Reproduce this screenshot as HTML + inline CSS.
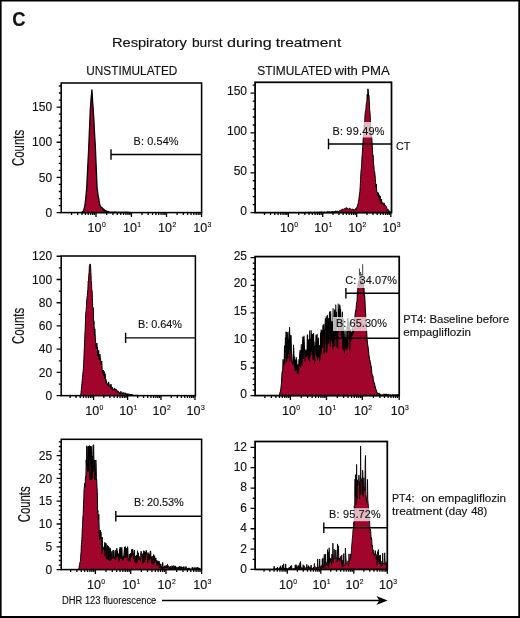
<!DOCTYPE html>
<html><head><meta charset="utf-8"><title>C</title>
<style>
html,body{margin:0;padding:0;background:#fff;}
body{width:520px;height:618px;overflow:hidden;font-family:"Liberation Sans",sans-serif;}
svg{display:block;will-change:transform;}
text{font-family:"Liberation Sans",sans-serif;fill:#111;stroke:#111;stroke-width:0.14px;}
</style></head><body>
<svg width="520" height="618" viewBox="0 0 520 618">
<rect x="0" y="0" width="520" height="618" fill="#fff"/>
<path d="M0 0H520V618H0Z M1.6 1.5V616H518.3V1.5Z" fill="#000" fill-rule="evenodd"/>

<text x="12.30" y="25.80" font-size="20.3" text-anchor="start" font-weight="bold" textLength="13.3" lengthAdjust="spacingAndGlyphs">C</text>
<text x="111.90" y="46.75" font-size="13" textLength="74.95" lengthAdjust="spacingAndGlyphs" >Respiratory</text>
<text x="191.90" y="46.75" font-size="13" textLength="30.70" lengthAdjust="spacingAndGlyphs" >burst</text>
<text x="226.90" y="46.75" font-size="13" textLength="44.95" lengthAdjust="spacingAndGlyphs" >during</text>
<text x="275.65" y="46.75" font-size="13" textLength="65.70" lengthAdjust="spacingAndGlyphs" >treatment</text>
<text x="86.30" y="75.10" font-size="12.8" text-anchor="start" textLength="91" lengthAdjust="spacingAndGlyphs">UNSTIMULATED</text>
<text x="257.20" y="75.1" font-size="12.8" textLength="74.70" lengthAdjust="spacingAndGlyphs" >STIMULATED</text>
<text x="334.50" y="75.1" font-size="12.8" textLength="23.40" lengthAdjust="spacingAndGlyphs" >with</text>
<text x="361.30" y="75.1" font-size="12.8" textLength="28.60" lengthAdjust="spacingAndGlyphs" >PMA</text>
<text transform="translate(23.85 147.9) rotate(-90) scale(0.712 1)" font-size="16" text-anchor="middle" stroke="none">Counts</text>
<text transform="translate(23.85 325.9) rotate(-90) scale(0.712 1)" font-size="16" text-anchor="middle" stroke="none">Counts</text>
<text transform="translate(30.4 504.3) rotate(-90) scale(0.712 1)" font-size="16" text-anchor="middle" stroke="none">Counts</text>
<path d="M81.5 212.6L81.5 212.6L81.9 212.3L82.3 212.0L82.7 211.6L83.1 211.3L83.5 211.0L83.9 209.4L84.3 207.8L84.7 206.2L85.1 204.1L85.5 200.3L85.9 196.6L86.3 192.8L86.7 188.0L87.1 180.0L87.5 172.0L87.9 164.0L88.3 156.0L88.7 148.0L89.1 138.5L89.5 129.0L89.9 119.5L90.3 110.0L90.7 104.3L91.1 98.4L91.5 94.8L91.9 89.9L92.3 95.5L92.7 103.0L93.1 107.3L93.5 114.4L93.9 120.2L94.3 128.8L94.7 136.1L95.1 142.2L95.5 150.2L95.9 160.1L96.3 169.6L96.7 179.1L97.1 188.3L97.5 190.6L97.9 194.1L98.3 196.8L98.7 197.9L99.1 201.1L99.5 203.8L99.9 204.8L100.3 206.2L100.7 206.6L101.1 207.0L101.5 207.5L101.9 207.4L102.3 208.0L102.7 209.6L103.1 208.8L103.5 210.1L103.9 209.3L104.3 210.0L104.7 209.9L105.1 210.9L105.5 210.7L105.9 210.9L106.3 211.0L106.7 211.5L107.1 211.5L107.5 212.0L107.9 211.4L108.3 211.9L108.7 211.9L109.1 212.3L109.5 212.2L109.9 212.3L110.3 212.3L110.7 212.2L111.1 212.2L111.5 212.3L111.9 212.6L112.3 212.3L112.7 212.1L113.1 212.4L113.5 212.3L113.9 212.2L114.3 212.4L114.7 212.2L115.1 212.2L115.5 212.1L115.9 212.3L116.3 212.1L116.7 212.3L117.1 212.3L117.5 212.4L117.9 212.3L118.3 212.4L118.7 212.1L119.1 212.4L119.5 212.3L119.9 212.3L120.3 212.4L120.7 212.5L121.1 212.5L121.5 212.4L121.9 212.2L122.3 212.6L122.7 212.4L123.1 212.6L123.5 212.3L123.9 212.3L124.3 212.4L124.7 212.5L125.1 212.2L125.5 212.4L125.9 212.5L126.3 212.5L126.7 212.2L127.1 212.2L127.5 212.6L127.9 212.5L128.3 212.5L128.7 212.4L129.1 212.3L129.5 212.4L129.9 212.6L130.0 212.6Z" fill="#a2052b" stroke="#000" stroke-width="1.3" stroke-linejoin="round"/>
<rect x="61.2" y="83" width="140.40" height="129.60" fill="none" stroke="#000" stroke-width="1.55"/>
<path d="M71.54 212.6v2.4M77.70 212.6v2.4M82.07 212.6v2.4M85.46 212.6v2.4M88.24 212.6v2.4M90.58 212.6v2.4M92.61 212.6v2.4M94.40 212.6v2.4M96.00 212.6v4.4M106.66 212.6v2.4M112.89 212.6v2.4M117.31 212.6v2.4M120.74 212.6v2.4M123.55 212.6v2.4M125.92 212.6v2.4M127.97 212.6v2.4M129.78 212.6v2.4M131.40 212.6v4.4M141.97 212.6v2.4M148.15 212.6v2.4M152.53 212.6v2.4M155.93 212.6v2.4M158.71 212.6v2.4M161.06 212.6v2.4M163.10 212.6v2.4M164.89 212.6v2.4M166.50 212.6v4.4M177.07 212.6v2.4M183.25 212.6v2.4M187.63 212.6v2.4M191.03 212.6v2.4M193.81 212.6v2.4M196.16 212.6v2.4M198.20 212.6v2.4M199.99 212.6v2.4M201.60 212.6v4.4M61.2 212.60h-4.6M61.2 205.57h-2.4M61.2 198.53h-2.4M61.2 191.50h-2.4M61.2 184.46h-2.4M61.2 177.43h-4.6M61.2 170.40h-2.4M61.2 163.36h-2.4M61.2 156.33h-2.4M61.2 149.29h-2.4M61.2 142.26h-4.6M61.2 135.23h-2.4M61.2 128.19h-2.4M61.2 121.16h-2.4M61.2 114.12h-2.4M61.2 107.09h-4.6M61.2 100.06h-2.4M61.2 93.02h-2.4M61.2 85.99h-2.4" stroke="#000" stroke-width="1.3" fill="none"/>
<text x="52.10" y="216.70" font-size="12.0" text-anchor="end" >0</text>
<text x="52.10" y="181.53" font-size="12.0" text-anchor="end" >50</text>
<text x="52.10" y="146.36" font-size="12.0" text-anchor="end" >100</text>
<text x="52.10" y="111.19" font-size="12.0" text-anchor="end" >150</text>
<text x="87.60" y="232.20" font-size="12.2" textLength="14.0" lengthAdjust="spacingAndGlyphs">10</text><text x="101.90" y="227.30" font-size="8" textLength="3.8" lengthAdjust="spacingAndGlyphs" stroke="none">0</text>
<text x="123.00" y="232.20" font-size="12.2" textLength="14.0" lengthAdjust="spacingAndGlyphs">10</text><text x="137.30" y="227.30" font-size="8" textLength="3.8" lengthAdjust="spacingAndGlyphs" stroke="none">1</text>
<text x="158.10" y="232.20" font-size="12.2" textLength="14.0" lengthAdjust="spacingAndGlyphs">10</text><text x="172.40" y="227.30" font-size="8" textLength="3.8" lengthAdjust="spacingAndGlyphs" stroke="none">2</text>
<text x="193.20" y="232.20" font-size="12.2" textLength="14.0" lengthAdjust="spacingAndGlyphs">10</text><text x="207.50" y="227.30" font-size="8" textLength="3.8" lengthAdjust="spacingAndGlyphs" stroke="none">3</text>
<path d="M111 154.45H201.6M111 149.25v10.4" stroke="#000" stroke-width="1.4" fill="none"/>
<text x="133.50" y="144.60" font-size="10.9" text-anchor="start" textLength="45" lengthAdjust="spacing">B: 0.54%</text>
<path d="M300.0 212.7L300.0 212.7L300.4 212.5L300.7 212.5L301.1 212.7L301.4 212.7L301.8 212.6L302.1 212.7L302.5 212.5L302.8 212.5L303.2 212.3L303.5 212.6L303.9 212.7L304.2 212.6L304.6 212.6L304.9 212.6L305.3 212.4L305.6 212.3L306.0 212.4L306.3 212.5L306.7 212.2L307.0 212.6L307.4 212.2L307.7 212.4L308.1 212.2L308.4 212.3L308.8 212.5L309.1 212.2L309.5 212.3L309.8 212.3L310.2 212.0L310.5 212.2L310.9 212.3L311.2 212.3L311.6 212.5L311.9 212.2L312.3 212.5L312.6 212.4L313.0 212.3L313.3 212.3L313.7 212.6L314.0 212.2L314.4 212.1L314.7 212.1L315.1 212.2L315.4 212.4L315.8 212.3L316.1 212.2L316.5 212.1L316.8 212.4L317.2 211.9L317.5 212.2L317.9 212.0L318.2 212.3L318.6 212.2L318.9 212.3L319.3 211.9L319.6 212.1L320.0 212.1L320.3 212.2L320.7 212.2L321.0 211.7L321.4 212.3L321.7 212.4L322.1 211.8L322.4 212.2L322.8 212.2L323.1 212.1L323.5 212.3L323.8 212.4L324.2 212.1L324.5 212.0L324.9 212.1L325.2 212.2L325.6 212.4L325.9 212.0L326.3 212.1L326.6 212.2L327.0 212.0L327.3 211.8L327.7 211.6L328.0 211.9L328.4 211.5L328.7 211.8L329.1 211.7L329.4 211.7L329.8 211.9L330.1 211.9L330.5 212.3L330.8 211.7L331.2 211.9L331.5 211.7L331.9 212.3L332.2 211.3L332.6 211.7L332.9 211.5L333.3 211.5L333.6 212.2L334.0 212.3L334.3 211.5L334.7 211.8L335.0 212.0L335.4 210.8L335.7 211.4L336.1 211.4L336.4 211.2L336.8 211.5L337.1 211.4L337.5 211.6L337.8 210.8L338.2 211.6L338.5 211.1L338.9 211.7L339.2 211.5L339.6 210.5L339.9 210.6L340.3 210.9L340.6 210.7L341.0 209.8L341.3 210.3L341.7 209.7L342.0 209.7L342.4 209.0L342.7 209.1L343.1 209.1L343.4 209.2L343.8 209.3L344.1 209.7L344.5 208.5L344.8 208.8L345.2 208.6L345.5 208.3L345.9 208.6L346.2 207.6L346.6 207.9L346.9 208.0L347.3 208.1L347.6 209.0L348.0 209.5L348.3 209.2L348.7 208.8L349.0 208.7L349.4 208.1L349.7 208.1L350.1 208.9L350.4 208.7L350.8 209.5L351.1 209.7L351.5 209.8L351.8 209.6L352.2 208.8L352.5 209.3L352.9 209.8L353.2 209.1L353.6 209.5L353.9 210.1L354.3 210.1L354.6 209.7L355.0 209.2L355.3 209.4L355.7 208.4L356.0 209.7L356.4 208.7L356.7 207.2L357.1 206.6L357.4 205.8L357.8 204.2L358.1 204.2L358.5 201.2L358.8 200.1L359.2 196.5L359.5 193.7L359.9 191.4L360.2 186.4L360.6 179.8L360.9 172.7L361.3 168.9L361.6 166.1L362.0 156.9L362.3 154.2L362.7 146.6L363.0 142.2L363.4 136.5L363.7 134.5L364.1 124.8L364.4 127.1L364.8 120.2L365.1 113.4L365.5 111.1L365.8 111.1L366.2 104.7L366.5 103.1L366.9 101.3L367.2 94.5L367.6 98.4L367.9 88.8L368.3 90.7L368.6 96.1L369.0 95.5L369.3 101.6L369.7 110.2L370.0 112.6L370.4 120.5L370.7 127.4L371.1 133.0L371.4 134.1L371.8 138.3L372.1 142.8L372.5 150.9L372.8 156.2L373.2 155.6L373.5 163.0L373.9 165.9L374.2 170.4L374.6 171.6L374.9 173.8L375.3 178.4L375.6 182.6L376.0 187.2L376.3 184.0L376.7 191.0L377.0 191.8L377.4 193.1L377.7 195.8L378.1 192.5L378.4 192.9L378.8 197.7L379.1 194.7L379.5 200.4L379.8 197.8L380.2 195.9L380.5 198.4L380.9 199.3L381.2 203.5L381.6 199.2L381.9 203.7L382.3 203.7L382.6 202.5L383.0 204.3L383.3 203.5L383.7 205.3L384.0 202.8L384.4 205.5L384.7 204.8L385.1 205.1L385.4 205.5L385.8 205.8L386.1 206.2L386.5 206.8L386.8 208.5L387.2 208.7L387.5 210.7L387.9 209.0L388.2 211.2L388.6 211.3L388.9 210.6L389.3 211.9L389.6 211.6L390.0 211.6L390.3 212.1L390.7 211.5L391.0 212.6L391.4 212.4L391.5 212.7Z" fill="#a2052b" stroke="#000" stroke-width="1.0" stroke-linejoin="round"/>
<rect x="255.1" y="82.3" width="136.40" height="130.35" fill="none" stroke="#000" stroke-width="1.75"/>
<path d="M264.50 212.65v2.4M270.52 212.65v2.4M274.79 212.65v2.4M278.10 212.65v2.4M280.81 212.65v2.4M283.10 212.65v2.4M285.09 212.65v2.4M286.84 212.65v2.4M288.40 212.65v4.4M298.73 212.65v2.4M304.77 212.65v2.4M309.05 212.65v2.4M312.37 212.65v2.4M315.09 212.65v2.4M317.39 212.65v2.4M319.38 212.65v2.4M321.13 212.65v2.4M322.70 212.65v4.4M332.94 212.65v2.4M338.92 212.65v2.4M343.17 212.65v2.4M346.46 212.65v2.4M349.16 212.65v2.4M351.43 212.65v2.4M353.41 212.65v2.4M355.14 212.65v2.4M356.70 212.65v4.4M366.97 212.65v2.4M372.97 212.65v2.4M377.23 212.65v2.4M380.53 212.65v2.4M383.23 212.65v2.4M385.52 212.65v2.4M387.50 212.65v2.4M389.24 212.65v2.4M390.80 212.65v4.4M255.1 212.65h-4.6M255.1 204.68h-2.4M255.1 196.71h-2.4M255.1 188.74h-2.4M255.1 180.77h-2.4M255.1 172.80h-4.6M255.1 164.83h-2.4M255.1 156.86h-2.4M255.1 148.89h-2.4M255.1 140.92h-2.4M255.1 132.95h-4.6M255.1 124.98h-2.4M255.1 117.01h-2.4M255.1 109.04h-2.4M255.1 101.07h-2.4M255.1 93.10h-4.6M255.1 85.13h-2.4" stroke="#000" stroke-width="1.3" fill="none"/>
<text x="247.00" y="215.40" font-size="12.0" text-anchor="end" >0</text>
<text x="247.00" y="175.13" font-size="12.0" text-anchor="end" >50</text>
<text x="247.00" y="134.87" font-size="12.0" text-anchor="end" >100</text>
<text x="247.00" y="94.61" font-size="12.0" text-anchor="end" >150</text>
<text x="280.00" y="232.25" font-size="12.2" textLength="14.0" lengthAdjust="spacingAndGlyphs">10</text><text x="294.30" y="227.35" font-size="8" textLength="3.8" lengthAdjust="spacingAndGlyphs" stroke="none">0</text>
<text x="314.30" y="232.25" font-size="12.2" textLength="14.0" lengthAdjust="spacingAndGlyphs">10</text><text x="328.60" y="227.35" font-size="8" textLength="3.8" lengthAdjust="spacingAndGlyphs" stroke="none">1</text>
<text x="348.30" y="232.25" font-size="12.2" textLength="14.0" lengthAdjust="spacingAndGlyphs">10</text><text x="362.60" y="227.35" font-size="8" textLength="3.8" lengthAdjust="spacingAndGlyphs" stroke="none">2</text>
<text x="382.40" y="232.25" font-size="12.2" textLength="14.0" lengthAdjust="spacingAndGlyphs">10</text><text x="396.70" y="227.35" font-size="8" textLength="3.8" lengthAdjust="spacingAndGlyphs" stroke="none">3</text>
<rect x="331" y="122" width="54" height="15.5" fill="#fff" fill-opacity="0.72"/>
<path d="M328.5 144.0H391.5M328.5 138.8v10.4" stroke="#000" stroke-width="1.4" fill="none"/>
<text x="332.40" y="134.60" font-size="10.9" text-anchor="start" textLength="52" lengthAdjust="spacing">B: 99.49%</text>
<text x="396.00" y="150.00" font-size="10.9" text-anchor="start" textLength="14.4" lengthAdjust="spacingAndGlyphs">CT</text>
<path d="M80.7 395.6L80.7 395.6L81.0 392.7L81.3 389.7L81.6 386.7L81.9 383.7L82.2 380.5L82.5 377.8L82.8 374.2L83.1 371.5L83.4 368.7L83.7 363.7L84.0 355.4L84.3 348.8L84.6 342.3L84.9 334.5L85.2 329.1L85.5 321.0L85.8 313.0L86.1 311.0L86.4 306.7L86.7 300.8L87.0 297.7L87.3 295.5L87.6 292.2L87.9 289.1L88.2 281.1L88.5 281.9L88.8 274.8L89.1 272.6L89.4 265.7L89.7 264.9L90.0 263.9L90.3 264.2L90.6 266.1L90.9 272.3L91.2 280.4L91.5 282.9L91.8 290.7L92.1 290.6L92.4 297.6L92.7 306.9L93.0 307.1L93.3 307.8L93.6 324.7L93.9 320.8L94.2 326.2L94.5 335.7L94.8 328.8L95.1 333.7L95.4 339.1L95.7 342.8L96.0 344.0L96.3 348.5L96.6 344.6L96.9 343.1L97.2 346.8L97.5 346.9L97.8 355.3L98.1 350.1L98.4 356.6L98.7 350.6L99.0 359.6L99.3 359.9L99.6 358.5L99.9 354.1L100.2 359.2L100.5 357.8L100.8 363.0L101.1 364.2L101.4 365.0L101.7 361.0L102.0 365.2L102.3 372.1L102.6 370.3L102.9 373.6L103.2 371.2L103.5 370.0L103.8 375.8L104.1 371.4L104.4 376.3L104.7 378.5L105.0 373.6L105.3 376.2L105.6 380.4L105.9 379.1L106.2 383.3L106.5 380.8L106.8 383.0L107.1 383.8L107.4 385.0L107.7 385.3L108.0 383.6L108.3 384.1L108.6 381.9L108.9 383.1L109.2 386.8L109.5 386.2L109.8 386.9L110.1 384.6L110.4 386.4L110.7 389.1L111.0 384.3L111.3 386.6L111.6 386.5L111.9 388.3L112.2 387.2L112.5 389.7L112.8 390.3L113.1 388.9L113.4 389.2L113.7 389.1L114.0 389.2L114.3 389.2L114.6 387.9L114.9 390.1L115.2 389.5L115.5 389.2L115.8 390.1L116.1 389.2L116.4 391.2L116.7 390.5L117.0 391.1L117.3 391.3L117.6 392.5L117.9 390.7L118.2 391.1L118.5 391.5L118.8 392.3L119.1 393.4L119.4 392.5L119.7 393.6L120.0 392.7L120.3 393.3L120.6 393.8L120.9 391.3L121.2 392.2L121.5 392.9L121.8 393.6L122.1 392.7L122.4 394.0L122.7 394.2L123.0 392.7L123.3 394.2L123.6 394.3L123.9 392.5L124.2 394.1L124.5 394.0L124.8 394.5L125.1 394.4L125.4 392.8L125.7 394.4L126.0 394.3L126.3 393.8L126.6 393.9L126.9 394.8L127.2 393.5L127.5 394.9L127.8 394.8L128.1 395.6L128.4 394.4L128.7 393.7L129.0 394.6L129.3 394.0L129.6 395.1L129.9 395.3L130.2 394.7L130.5 395.4L130.8 394.3L131.1 394.9L131.4 394.3L131.7 395.4L132.0 394.2L132.3 395.1L132.6 395.1L132.9 395.0L133.2 395.3L133.5 395.1L133.8 395.1L134.1 395.6L134.4 395.0L134.7 395.4L135.0 395.4L135.3 394.9L135.6 395.2L135.9 395.2L136.2 395.4L136.5 395.2L136.8 395.4L137.1 395.1L137.4 395.2L137.7 395.3L138.0 395.3L138.3 395.4L138.6 395.5L138.9 395.4L139.2 395.3L139.5 395.6L139.8 395.6L140.0 395.6Z" fill="#a2052b" stroke="#000" stroke-width="1.0" stroke-linejoin="round"/>
<rect x="61.2" y="256" width="134.20" height="139.65" fill="none" stroke="#000" stroke-width="1.55"/>
<path d="M70.11 395.65v2.4M76.03 395.65v2.4M80.23 395.65v2.4M83.49 395.65v2.4M86.15 395.65v2.4M88.40 395.65v2.4M90.34 395.65v2.4M92.06 395.65v2.4M93.60 395.65v4.4M103.84 395.65v2.4M109.82 395.65v2.4M114.07 395.65v2.4M117.36 395.65v2.4M120.06 395.65v2.4M122.33 395.65v2.4M124.31 395.65v2.4M126.04 395.65v2.4M127.60 395.65v4.4M137.65 395.65v2.4M143.54 395.65v2.4M147.71 395.65v2.4M150.95 395.65v2.4M153.59 395.65v2.4M155.83 395.65v2.4M157.76 395.65v2.4M159.47 395.65v2.4M161.00 395.65v4.4M171.24 395.65v2.4M177.22 395.65v2.4M181.47 395.65v2.4M184.76 395.65v2.4M187.46 395.65v2.4M189.73 395.65v2.4M191.71 395.65v2.4M193.44 395.65v2.4M195.00 395.65v4.4M61.2 395.65h-4.6M61.2 384.03h-2.4M61.2 372.42h-4.6M61.2 360.80h-2.4M61.2 349.19h-4.6M61.2 337.57h-2.4M61.2 325.96h-4.6M61.2 314.34h-2.4M61.2 302.73h-4.6M61.2 291.12h-2.4M61.2 279.50h-4.6M61.2 267.88h-2.4M61.2 256.27h-4.6" stroke="#000" stroke-width="1.3" fill="none"/>
<text x="52.10" y="399.75" font-size="12.0" text-anchor="end" >0</text>
<text x="52.10" y="376.52" font-size="12.0" text-anchor="end" >20</text>
<text x="52.10" y="353.29" font-size="12.0" text-anchor="end" >40</text>
<text x="52.10" y="330.06" font-size="12.0" text-anchor="end" >60</text>
<text x="52.10" y="306.83" font-size="12.0" text-anchor="end" >80</text>
<text x="52.10" y="283.60" font-size="12.0" text-anchor="end" >100</text>
<text x="52.10" y="260.37" font-size="12.0" text-anchor="end" >120</text>
<text x="85.20" y="415.25" font-size="12.2" textLength="14.0" lengthAdjust="spacingAndGlyphs">10</text><text x="99.50" y="410.35" font-size="8" textLength="3.8" lengthAdjust="spacingAndGlyphs" stroke="none">0</text>
<text x="119.20" y="415.25" font-size="12.2" textLength="14.0" lengthAdjust="spacingAndGlyphs">10</text><text x="133.50" y="410.35" font-size="8" textLength="3.8" lengthAdjust="spacingAndGlyphs" stroke="none">1</text>
<text x="152.60" y="415.25" font-size="12.2" textLength="14.0" lengthAdjust="spacingAndGlyphs">10</text><text x="166.90" y="410.35" font-size="8" textLength="3.8" lengthAdjust="spacingAndGlyphs" stroke="none">2</text>
<text x="186.60" y="415.25" font-size="12.2" textLength="14.0" lengthAdjust="spacingAndGlyphs">10</text><text x="200.90" y="410.35" font-size="8" textLength="3.8" lengthAdjust="spacingAndGlyphs" stroke="none">3</text>
<path d="M125.6 337.9H195M125.6 332.7v10.4" stroke="#000" stroke-width="1.4" fill="none"/>
<text x="138.00" y="327.80" font-size="10.9" text-anchor="start" textLength="44" lengthAdjust="spacing">B: 0.64%</text>
<path d="M279.4 395.6L279.4 395.6L279.7 393.9L280.0 392.3L280.3 391.9L280.6 390.5L280.9 388.6L281.2 385.8L281.5 382.8L281.8 376.8L282.1 371.5L282.4 373.4L282.7 371.2L283.0 359.6L283.3 364.2L283.6 365.3L283.9 364.2L284.2 362.7L284.5 345.9L284.8 363.6L285.1 356.3L285.4 337.5L285.7 348.3L286.0 331.9L286.3 347.9L286.6 361.6L286.9 332.4L287.2 349.9L287.5 348.8L287.8 358.4L288.1 332.0L288.4 353.7L288.7 339.6L289.0 343.5L289.3 349.6L289.6 327.4L289.9 360.7L290.2 340.7L290.5 352.6L290.8 335.2L291.1 336.0L291.4 353.0L291.7 354.5L292.0 361.2L292.3 362.5L292.6 364.7L292.9 363.8L293.2 362.6L293.5 345.0L293.8 350.3L294.1 364.8L294.4 356.4L294.7 369.1L295.0 370.9L295.3 365.6L295.6 359.7L295.9 369.5L296.2 357.4L296.5 360.2L296.8 360.5L297.1 371.7L297.4 373.7L297.7 369.0L298.0 364.7L298.3 367.0L298.6 373.4L298.9 359.5L299.2 365.8L299.5 358.5L299.8 352.9L300.1 350.4L300.4 367.0L300.7 362.2L301.0 359.0L301.3 344.6L301.6 360.9L301.9 362.9L302.2 365.5L302.5 347.8L302.8 337.0L303.1 342.6L303.4 358.4L303.7 340.9L304.0 336.0L304.3 342.8L304.6 350.5L304.9 361.3L305.2 353.0L305.5 354.9L305.8 349.7L306.1 356.4L306.4 355.3L306.7 350.9L307.0 356.2L307.3 334.7L307.6 335.5L307.9 348.4L308.2 358.9L308.5 359.1L308.8 339.7L309.1 351.9L309.4 360.9L309.7 330.7L310.0 353.7L310.3 356.6L310.6 339.2L310.9 351.3L311.2 330.6L311.5 340.5L311.8 350.8L312.1 354.4L312.4 334.4L312.7 334.7L313.0 359.6L313.3 355.1L313.6 333.4L313.9 359.1L314.2 341.8L314.5 363.6L314.8 353.5L315.1 348.7L315.4 346.1L315.7 345.3L316.0 335.0L316.3 354.3L316.6 355.8L316.9 342.1L317.2 334.3L317.5 359.8L317.8 348.8L318.1 353.6L318.4 338.1L318.7 356.9L319.0 354.0L319.3 345.6L319.6 361.0L319.9 358.1L320.2 358.0L320.5 333.1L320.8 354.8L321.1 329.9L321.4 352.0L321.7 330.3L322.0 332.7L322.3 332.0L322.6 347.2L322.9 325.5L323.2 335.9L323.5 329.5L323.8 324.3L324.1 353.3L324.4 330.2L324.7 351.6L325.0 330.9L325.3 318.8L325.6 327.4L325.9 329.3L326.2 316.7L326.5 353.0L326.8 352.1L327.1 344.2L327.4 315.3L327.7 343.7L328.0 330.9L328.3 340.7L328.6 318.6L328.9 343.6L329.2 325.2L329.5 311.9L329.8 321.5L330.1 317.8L330.4 346.7L330.7 311.6L331.0 331.7L331.3 339.9L331.6 325.3L331.9 321.6L332.2 341.6L332.5 335.8L332.8 348.7L333.1 308.4L333.4 347.0L333.7 326.4L334.0 340.1L334.3 327.2L334.6 309.9L334.9 345.9L335.2 315.3L335.5 335.7L335.8 304.9L336.1 327.3L336.4 312.0L336.7 346.9L337.0 343.4L337.3 331.5L337.6 334.7L337.9 348.0L338.2 303.9L338.5 321.9L338.8 309.6L339.1 331.2L339.4 308.9L339.7 304.9L340.0 305.9L340.3 316.4L340.6 309.2L340.9 323.2L341.2 335.0L341.5 319.0L341.8 336.3L342.1 338.0L342.4 312.0L342.7 348.8L343.0 319.5L343.3 319.1L343.6 323.1L343.9 350.2L344.2 340.6L344.5 353.2L344.8 339.3L345.1 330.1L345.4 346.2L345.7 342.3L346.0 349.4L346.3 337.5L346.6 347.1L346.9 326.2L347.2 344.8L347.5 318.5L347.8 348.7L348.1 318.3L348.4 329.7L348.7 330.0L349.0 329.8L349.3 322.6L349.6 336.0L349.9 349.9L350.2 329.2L350.5 330.3L350.8 341.3L351.1 332.4L351.4 336.1L351.7 332.2L352.0 333.0L352.3 327.5L352.6 335.2L352.9 330.1L353.2 329.5L353.5 332.5L353.8 331.9L354.1 327.1L354.4 322.0L354.7 318.5L355.0 316.2L355.3 312.6L355.6 310.4L355.9 311.6L356.2 307.9L356.5 302.7L356.8 303.0L357.1 300.8L357.4 291.8L357.7 292.9L358.0 283.6L358.3 284.9L358.6 281.4L358.9 285.0L359.2 286.8L359.5 277.2L359.8 285.8L360.1 282.9L360.4 279.7L360.7 285.9L361.0 284.9L361.3 277.2L361.6 284.9L361.9 282.7L362.2 283.6L362.5 280.6L362.8 282.1L363.1 288.2L363.4 284.0L363.7 291.5L364.0 287.9L364.3 296.3L364.6 294.7L364.9 299.9L365.2 306.4L365.5 312.7L365.8 316.7L366.1 322.3L366.4 326.3L366.7 332.3L367.0 337.7L367.3 341.2L367.6 344.4L367.9 345.7L368.2 347.9L368.5 350.9L368.8 354.4L369.1 356.3L369.4 357.7L369.7 360.2L370.0 360.2L370.3 363.5L370.6 362.9L370.9 366.7L371.2 366.3L371.5 369.1L371.8 372.6L372.1 374.5L372.4 375.1L372.7 375.8L373.0 376.3L373.3 380.5L373.6 380.8L373.9 382.2L374.2 382.7L374.5 383.3L374.8 385.2L375.1 386.5L375.4 387.2L375.7 389.4L376.0 389.6L376.3 390.2L376.6 391.5L376.9 392.3L377.2 392.8L377.5 393.4L377.8 393.2L378.1 393.5L378.4 393.3L378.7 394.1L379.0 393.8L379.3 393.4L379.6 394.6L379.9 394.3L380.2 394.2L380.5 394.7L380.8 394.7L381.1 395.5L381.4 395.1L381.7 395.1L382.0 395.5L382.3 395.0L382.6 394.9L382.9 395.4L383.2 395.3L383.5 394.7L383.8 394.7L384.1 394.0L384.4 395.6L384.7 394.4L385.0 394.4L385.3 394.9L385.6 395.6L385.9 394.1L386.2 394.2L386.5 395.1L386.8 395.4L387.1 394.7L387.4 395.1L387.7 394.6L388.0 394.8L388.3 394.6L388.6 395.2L388.9 395.2L389.2 395.1L389.5 395.2L389.8 395.1L390.1 394.8L390.4 395.1L390.7 395.1L391.0 395.5L391.3 395.3L391.6 395.3L391.9 395.0L392.2 395.3L392.5 395.5L392.8 394.6L393.1 395.0L393.4 395.3L393.7 395.0L394.0 395.1L394.3 394.8L394.6 395.6L394.9 395.4L395.2 395.1L395.5 395.1L395.8 395.0L396.1 394.7L396.4 395.2L396.7 394.8L397.0 394.9L397.3 394.9L397.6 395.1L397.9 394.6L398.2 395.6L398.5 394.8L398.8 395.6L399.0 395.6Z" fill="#a2052b" stroke="#000" stroke-width="1.05" stroke-linejoin="round"/><path d="M359.4 283V268.5M360.6 283V272M362.7 283V264.2M361.7 283V274" stroke="#000" stroke-width="0.75" fill="none"/>
<rect x="255.1" y="256.6" width="144.10" height="139.00" fill="none" stroke="#000" stroke-width="1.75"/>
<path d="M264.96 395.6v2.4M271.37 395.6v2.4M275.91 395.6v2.4M279.44 395.6v2.4M282.32 395.6v2.4M284.76 395.6v2.4M286.87 395.6v2.4M288.73 395.6v2.4M290.40 395.6v4.4M301.27 395.6v2.4M307.62 395.6v2.4M312.13 395.6v2.4M315.63 395.6v2.4M318.49 395.6v2.4M320.91 395.6v2.4M323.00 395.6v2.4M324.85 395.6v2.4M326.50 395.6v4.4M337.28 395.6v2.4M343.58 395.6v2.4M348.05 395.6v2.4M351.52 395.6v2.4M354.36 395.6v2.4M356.75 395.6v2.4M358.83 395.6v2.4M360.66 395.6v2.4M362.30 395.6v4.4M373.41 395.6v2.4M379.91 395.6v2.4M384.52 395.6v2.4M388.09 395.6v2.4M391.01 395.6v2.4M393.48 395.6v2.4M395.62 395.6v2.4M397.51 395.6v2.4M399.20 395.6v4.4M255.1 395.60h-4.6M255.1 390.08h-2.4M255.1 384.57h-2.4M255.1 379.05h-2.4M255.1 373.54h-2.4M255.1 368.02h-4.6M255.1 362.50h-2.4M255.1 356.99h-2.4M255.1 351.47h-2.4M255.1 345.96h-2.4M255.1 340.44h-4.6M255.1 334.92h-2.4M255.1 329.41h-2.4M255.1 323.89h-2.4M255.1 318.38h-2.4M255.1 312.86h-4.6M255.1 307.34h-2.4M255.1 301.83h-2.4M255.1 296.31h-2.4M255.1 290.80h-2.4M255.1 285.28h-4.6M255.1 279.76h-2.4M255.1 274.25h-2.4M255.1 268.73h-2.4M255.1 263.22h-2.4M255.1 257.70h-4.6" stroke="#000" stroke-width="1.3" fill="none"/>
<text x="247.00" y="398.10" font-size="12.0" text-anchor="end" >0</text>
<text x="247.00" y="370.44" font-size="12.0" text-anchor="end" >5</text>
<text x="247.00" y="342.78" font-size="12.0" text-anchor="end" >10</text>
<text x="247.00" y="315.12" font-size="12.0" text-anchor="end" >15</text>
<text x="247.00" y="287.46" font-size="12.0" text-anchor="end" >20</text>
<text x="247.00" y="259.80" font-size="12.0" text-anchor="end" >25</text>
<text x="282.00" y="415.20" font-size="12.2" textLength="14.0" lengthAdjust="spacingAndGlyphs">10</text><text x="296.30" y="410.30" font-size="8" textLength="3.8" lengthAdjust="spacingAndGlyphs" stroke="none">0</text>
<text x="318.10" y="415.20" font-size="12.2" textLength="14.0" lengthAdjust="spacingAndGlyphs">10</text><text x="332.40" y="410.30" font-size="8" textLength="3.8" lengthAdjust="spacingAndGlyphs" stroke="none">1</text>
<text x="353.90" y="415.20" font-size="12.2" textLength="14.0" lengthAdjust="spacingAndGlyphs">10</text><text x="368.20" y="410.30" font-size="8" textLength="3.8" lengthAdjust="spacingAndGlyphs" stroke="none">2</text>
<text x="390.80" y="415.20" font-size="12.2" textLength="14.0" lengthAdjust="spacingAndGlyphs">10</text><text x="405.10" y="410.30" font-size="8" textLength="3.8" lengthAdjust="spacingAndGlyphs" stroke="none">3</text>
<rect x="344" y="275.5" width="54" height="12.5" fill="#fff" fill-opacity="0.72"/>
<path d="M345.9 293.3H399.2M345.9 288.1v10.4" stroke="#000" stroke-width="1.4" fill="none"/>
<text x="345.30" y="283.70" font-size="10.9" text-anchor="start" textLength="51.7" lengthAdjust="spacing">C: 34.07%</text>
<rect x="333" y="317" width="55" height="14" fill="#fff" fill-opacity="0.72"/>
<path d="M326.3 338.3H399.2M326.3 333.1v10.4" stroke="#000" stroke-width="1.4" fill="none"/>
<text x="336.00" y="327.40" font-size="10.9" text-anchor="start" textLength="50.9" lengthAdjust="spacing">B: 65.30%</text>
<text x="403.30" y="322.8" font-size="10.8" textLength="23.10" lengthAdjust="spacingAndGlyphs" >PT4:</text>
<text x="429.40" y="322.8" font-size="10.8" textLength="43.90" lengthAdjust="spacingAndGlyphs" >Baseline</text>
<text x="476.30" y="322.8" font-size="10.8" textLength="32.80" lengthAdjust="spacingAndGlyphs" >before</text>
<text x="403.30" y="336.3" font-size="10.8" textLength="67.70" lengthAdjust="spacingAndGlyphs" >empagliflozin</text>
<path d="M78.7 569.6L78.7 569.6L79.0 567.7L79.3 565.8L79.6 564.3L79.9 562.6L80.2 561.7L80.5 561.3L80.8 554.3L81.1 551.9L81.4 544.6L81.7 542.8L82.0 536.5L82.3 528.9L82.6 525.5L82.9 516.5L83.2 514.8L83.5 504.8L83.8 498.9L84.1 489.4L84.4 486.7L84.7 483.4L85.0 487.2L85.3 481.5L85.6 476.4L85.9 477.7L86.2 459.8L86.5 465.4L86.8 445.8L87.1 458.7L87.4 466.2L87.7 472.1L88.0 446.9L88.3 470.8L88.6 446.1L88.9 460.2L89.2 454.6L89.5 445.5L89.8 471.0L90.1 480.1L90.4 446.1L90.7 454.1L91.0 465.6L91.3 446.4L91.6 479.8L91.9 472.8L92.2 456.4L92.5 478.4L92.8 454.3L93.1 445.1L93.4 444.9L93.7 444.8L94.0 471.7L94.3 459.8L94.6 471.2L94.9 479.9L95.2 474.4L95.5 475.1L95.8 460.0L96.1 465.3L96.4 477.5L96.7 480.0L97.0 487.6L97.3 491.5L97.6 512.1L97.9 510.5L98.2 518.2L98.5 520.0L98.8 514.3L99.1 527.0L99.4 535.7L99.7 540.2L100.0 533.3L100.3 530.2L100.6 538.7L100.9 531.9L101.2 536.7L101.5 542.8L101.8 554.1L102.1 537.1L102.4 540.4L102.7 547.5L103.0 547.9L103.3 548.4L103.6 549.4L103.9 546.9L104.2 550.5L104.5 550.2L104.8 542.4L105.1 556.3L105.4 552.6L105.7 543.2L106.0 543.3L106.3 545.1L106.6 558.9L106.9 550.1L107.2 550.0L107.5 545.3L107.8 551.2L108.1 559.7L108.4 546.1L108.7 560.1L109.0 547.4L109.3 552.3L109.6 548.9L109.9 561.0L110.2 548.4L110.5 548.4L110.8 555.3L111.1 560.3L111.4 556.3L111.7 553.2L112.0 551.3L112.3 556.6L112.6 558.4L112.9 556.9L113.2 550.0L113.5 557.1L113.8 556.9L114.1 556.7L114.4 558.5L114.7 556.7L115.0 551.1L115.3 550.3L115.6 560.1L115.9 557.9L116.2 554.8L116.5 556.1L116.8 548.3L117.1 556.2L117.4 550.7L117.7 556.4L118.0 556.4L118.3 553.6L118.6 554.6L118.9 561.7L119.2 556.3L119.5 549.0L119.8 558.0L120.1 547.2L120.4 555.7L120.7 559.0L121.0 547.9L121.3 559.0L121.6 548.3L121.9 547.4L122.2 555.7L122.5 556.3L122.8 560.3L123.1 555.9L123.4 556.3L123.7 558.9L124.0 552.9L124.3 549.8L124.6 546.9L124.9 557.3L125.2 555.2L125.5 546.7L125.8 558.0L126.1 552.4L126.4 548.5L126.7 553.4L127.0 548.4L127.3 557.2L127.6 546.7L127.9 550.2L128.2 560.6L128.5 558.1L128.8 558.3L129.1 557.5L129.4 554.0L129.7 554.9L130.0 561.7L130.3 561.4L130.6 553.4L130.9 554.8L131.2 557.1L131.5 549.6L131.8 555.9L132.1 555.7L132.4 549.8L132.7 549.0L133.0 550.7L133.3 555.1L133.6 558.6L133.9 553.4L134.2 555.4L134.5 550.1L134.8 561.3L135.1 557.8L135.4 555.9L135.7 556.4L136.0 563.3L136.3 559.2L136.6 555.3L136.9 562.1L137.2 556.8L137.5 550.8L137.8 557.9L138.1 553.7L138.4 552.8L138.7 559.7L139.0 557.4L139.3 556.5L139.6 557.6L139.9 559.5L140.2 557.8L140.5 561.6L140.8 553.5L141.1 551.3L141.4 555.4L141.7 554.9L142.0 554.1L142.3 553.7L142.6 559.7L142.9 563.3L143.2 558.3L143.5 555.2L143.8 550.7L144.1 562.1L144.4 561.0L144.7 551.5L145.0 559.9L145.3 552.3L145.6 554.8L145.9 553.3L146.2 550.3L146.5 551.4L146.8 554.4L147.1 554.1L147.4 557.1L147.7 562.9L148.0 552.6L148.3 554.2L148.6 554.1L148.9 558.7L149.2 560.3L149.5 554.2L149.8 558.3L150.1 551.9L150.4 551.1L150.7 550.9L151.0 559.4L151.3 557.5L151.6 563.5L151.9 557.9L152.2 556.0L152.5 562.0L152.8 562.0L153.1 564.8L153.4 560.9L153.7 554.5L154.0 560.9L154.3 563.1L154.6 555.9L154.9 561.2L155.2 558.6L155.5 559.8L155.8 557.9L156.1 561.2L156.4 562.3L156.7 560.4L157.0 565.8L157.3 564.5L157.6 561.3L157.9 560.8L158.2 561.8L158.5 564.4L158.8 563.5L159.1 561.2L159.4 568.1L159.7 563.2L160.0 567.7L160.3 564.2L160.6 565.5L160.9 564.1L161.2 568.6L161.5 568.6L161.8 566.2L162.1 568.9L162.4 566.3L162.7 562.4L163.0 566.0L163.3 566.7L163.6 568.9L163.9 567.6L164.2 566.5L164.5 566.6L164.8 567.7L165.1 565.6L165.4 567.5L165.7 567.2L166.0 566.5L166.3 567.8L166.6 567.3L166.9 565.2L167.2 567.4L167.5 564.3L167.8 567.5L168.1 566.3L168.4 565.8L168.7 566.5L169.0 567.4L169.3 568.5L169.6 566.8L169.9 567.9L170.2 569.6L170.5 566.4L170.8 567.3L171.1 567.4L171.4 568.6L171.7 569.6L172.0 565.7L172.3 567.9L172.6 566.4L172.9 566.5L173.2 568.6L173.5 567.4L173.8 565.6L174.1 566.6L174.4 566.4L174.7 568.7L175.0 567.7L175.3 569.2L175.6 565.9L175.9 568.4L176.2 568.5L176.5 567.6L176.8 567.4L177.1 567.3L177.4 568.3L177.7 569.6L178.0 567.1L178.3 566.8L178.6 569.1L178.9 568.5L179.2 568.4L179.5 569.6L179.8 566.2L180.1 569.4L180.4 569.6L180.7 566.8L181.0 569.1L181.3 568.0L181.6 566.7L181.9 569.2L182.2 567.7L182.5 567.1L182.8 568.5L183.1 568.2L183.4 568.0L183.7 566.6L184.0 569.2L184.3 569.2L184.6 568.9L184.9 568.3L185.2 566.7L185.5 569.6L185.8 568.0L186.1 566.7L186.4 569.5L186.7 569.2L187.0 569.6L187.3 569.6L187.6 568.3L187.9 569.6L188.2 568.5L188.5 567.9L188.8 569.6L189.1 569.6L189.4 569.6L189.7 567.9L190.0 569.2L190.3 569.2L190.6 569.2L190.9 569.6L191.2 569.6L191.5 569.1L191.8 569.6L192.1 567.6L192.4 568.9L192.7 567.3L193.0 568.3L193.3 568.2L193.6 569.1L193.9 568.8L194.2 568.7L194.5 567.6L194.8 569.6L195.1 569.6L195.4 567.9L195.7 569.6L196.0 567.5L196.3 568.3L196.6 568.3L196.9 569.1L197.2 567.4L197.5 567.5L197.8 569.6L198.1 567.6L198.4 569.1L198.7 568.1L199.0 568.0L199.3 568.0L199.6 569.6L199.9 569.0L200.2 568.8L200.5 569.1L200.8 568.9L201.0 569.6Z" fill="#a2052b" stroke="#000" stroke-width="1.0" stroke-linejoin="round"/>
<rect x="61.2" y="439.3" width="140.40" height="130.30" fill="none" stroke="#000" stroke-width="1.55"/>
<path d="M70.66 569.6v2.4M76.89 569.6v2.4M81.31 569.6v2.4M84.74 569.6v2.4M87.55 569.6v2.4M89.92 569.6v2.4M91.97 569.6v2.4M93.78 569.6v2.4M95.40 569.6v4.4M106.03 569.6v2.4M112.24 569.6v2.4M116.65 569.6v2.4M120.07 569.6v2.4M122.87 569.6v2.4M125.23 569.6v2.4M127.28 569.6v2.4M129.08 569.6v2.4M130.70 569.6v4.4M141.33 569.6v2.4M147.54 569.6v2.4M151.95 569.6v2.4M155.37 569.6v2.4M158.17 569.6v2.4M160.53 569.6v2.4M162.58 569.6v2.4M164.38 569.6v2.4M166.00 569.6v4.4M176.72 569.6v2.4M182.99 569.6v2.4M187.43 569.6v2.4M190.88 569.6v2.4M193.70 569.6v2.4M196.09 569.6v2.4M198.15 569.6v2.4M199.97 569.6v2.4M201.60 569.6v4.4M61.2 569.60h-4.6M61.2 565.04h-2.4M61.2 560.48h-2.4M61.2 555.92h-2.4M61.2 551.36h-2.4M61.2 546.80h-4.6M61.2 542.24h-2.4M61.2 537.68h-2.4M61.2 533.12h-2.4M61.2 528.56h-2.4M61.2 524.00h-4.6M61.2 519.44h-2.4M61.2 514.88h-2.4M61.2 510.32h-2.4M61.2 505.76h-2.4M61.2 501.20h-4.6M61.2 496.64h-2.4M61.2 492.08h-2.4M61.2 487.52h-2.4M61.2 482.96h-2.4M61.2 478.40h-4.6M61.2 473.84h-2.4M61.2 469.28h-2.4M61.2 464.72h-2.4M61.2 460.16h-2.4M61.2 455.60h-4.6M61.2 451.04h-2.4M61.2 446.48h-2.4M61.2 441.92h-2.4" stroke="#000" stroke-width="1.3" fill="none"/>
<text x="52.10" y="573.70" font-size="12.0" text-anchor="end" >0</text>
<text x="52.10" y="550.90" font-size="12.0" text-anchor="end" >5</text>
<text x="52.10" y="528.10" font-size="12.0" text-anchor="end" >10</text>
<text x="52.10" y="505.30" font-size="12.0" text-anchor="end" >15</text>
<text x="52.10" y="482.50" font-size="12.0" text-anchor="end" >20</text>
<text x="52.10" y="459.70" font-size="12.0" text-anchor="end" >25</text>
<text x="87.00" y="589.20" font-size="12.2" textLength="14.0" lengthAdjust="spacingAndGlyphs">10</text><text x="101.30" y="584.30" font-size="8" textLength="3.8" lengthAdjust="spacingAndGlyphs" stroke="none">0</text>
<text x="122.30" y="589.20" font-size="12.2" textLength="14.0" lengthAdjust="spacingAndGlyphs">10</text><text x="136.60" y="584.30" font-size="8" textLength="3.8" lengthAdjust="spacingAndGlyphs" stroke="none">1</text>
<text x="157.60" y="589.20" font-size="12.2" textLength="14.0" lengthAdjust="spacingAndGlyphs">10</text><text x="171.90" y="584.30" font-size="8" textLength="3.8" lengthAdjust="spacingAndGlyphs" stroke="none">2</text>
<text x="193.20" y="589.20" font-size="12.2" textLength="14.0" lengthAdjust="spacingAndGlyphs">10</text><text x="207.50" y="584.30" font-size="8" textLength="3.8" lengthAdjust="spacingAndGlyphs" stroke="none">3</text>
<path d="M115.8 516.2H201.6M115.8 511.00000000000006v10.4" stroke="#000" stroke-width="1.4" fill="none"/>
<text x="134.00" y="506.00" font-size="10.9" text-anchor="start" textLength="49.6" lengthAdjust="spacing">B: 20.53%</text>
<path d="M273.8 569.5L273.8 569.5L274.1 566.1L274.5 569.3L274.8 569.0L275.1 568.6L275.4 569.5L275.8 568.9L276.1 569.5L276.4 568.3L276.8 569.2L277.1 568.9L277.4 567.0L277.8 568.4L278.1 569.5L278.4 569.5L278.7 569.5L279.1 568.1L279.4 569.1L279.7 567.5L280.1 568.4L280.4 565.8L280.7 568.8L281.1 567.4L281.4 568.5L281.7 568.0L282.0 569.3L282.4 565.2L282.7 569.5L283.0 569.3L283.4 566.4L283.7 563.8L284.0 568.6L284.4 568.0L284.7 569.5L285.0 568.6L285.3 569.5L285.7 563.9L286.0 569.1L286.3 568.0L286.7 569.2L287.0 568.2L287.3 568.8L287.7 568.9L288.0 569.5L288.3 569.5L288.6 568.1L289.0 568.1L289.3 567.2L289.6 569.5L290.0 569.5L290.3 569.5L290.6 565.9L291.0 569.5L291.3 566.1L291.6 565.5L291.9 569.5L292.3 569.5L292.6 568.9L292.9 569.5L293.3 568.6L293.6 569.2L293.9 568.5L294.3 569.0L294.6 568.7L294.9 569.1L295.2 565.2L295.6 568.4L295.9 564.6L296.2 568.1L296.6 568.2L296.9 565.4L297.2 568.9L297.6 567.0L297.9 567.2L298.2 569.2L298.5 565.5L298.9 569.0L299.2 566.9L299.5 568.3L299.9 562.8L300.2 567.7L300.5 561.6L300.9 567.4L301.2 569.4L301.5 568.7L301.8 567.3L302.2 568.3L302.5 568.2L302.8 569.0L303.2 564.7L303.5 568.7L303.8 567.9L304.2 565.8L304.5 568.2L304.8 569.5L305.1 569.5L305.5 567.7L305.8 568.3L306.1 567.5L306.5 567.7L306.8 564.4L307.1 568.2L307.5 568.2L307.8 566.8L308.1 567.8L308.4 565.6L308.8 568.5L309.1 569.5L309.4 568.2L309.8 566.7L310.1 566.7L310.4 569.5L310.8 569.5L311.1 565.0L311.4 567.2L311.7 568.3L312.1 568.0L312.4 568.9L312.7 569.4L313.1 568.1L313.4 567.1L313.7 568.2L314.1 566.8L314.4 563.4L314.7 567.0L315.0 566.4L315.4 567.5L315.7 567.3L316.0 569.5L316.4 567.8L316.7 567.4L317.0 569.5L317.4 567.0L317.7 558.9L318.0 567.8L318.3 567.0L318.7 566.9L319.0 567.5L319.3 567.5L319.7 559.0L320.0 567.6L320.3 566.6L320.7 568.3L321.0 565.8L321.3 566.4L321.6 565.5L322.0 567.4L322.3 559.2L322.6 567.9L323.0 557.8L323.3 568.2L323.6 565.8L324.0 564.6L324.3 554.3L324.6 565.8L324.9 567.3L325.3 562.7L325.6 554.1L325.9 565.0L326.3 562.5L326.6 562.6L326.9 563.9L327.3 566.1L327.6 549.5L327.9 562.2L328.2 551.8L328.6 567.2L328.9 564.5L329.2 547.8L329.6 562.4L329.9 562.1L330.2 557.9L330.6 561.4L330.9 558.9L331.2 561.1L331.5 565.1L331.9 554.2L332.2 559.6L332.5 560.7L332.9 543.2L333.2 563.0L333.5 559.1L333.9 555.3L334.2 549.2L334.5 558.9L334.8 559.2L335.2 558.7L335.5 559.0L335.8 550.0L336.2 556.3L336.5 557.9L336.8 559.4L337.2 561.9L337.5 543.9L337.8 557.9L338.1 560.5L338.5 545.8L338.8 558.1L339.1 558.7L339.5 558.1L339.8 560.4L340.1 558.6L340.5 556.5L340.8 557.8L341.1 560.1L341.4 563.8L341.8 554.9L342.1 567.1L342.4 560.3L342.8 566.8L343.1 560.6L343.4 560.8L343.8 553.5L344.1 564.2L344.4 565.5L344.7 566.0L345.1 562.6L345.4 548.0L345.7 554.1L346.1 560.0L346.4 562.6L346.7 562.7L347.1 563.4L347.4 563.3L347.7 562.7L348.0 560.7L348.4 566.1L348.7 566.1L349.0 553.9L349.4 561.2L349.7 560.6L350.0 558.1L350.4 554.0L350.7 558.1L351.0 554.1L351.3 552.3L351.7 545.2L352.0 542.4L352.3 538.9L352.7 534.8L353.0 530.0L353.3 528.8L353.7 522.2L354.0 525.1L354.3 505.9L354.6 513.0L355.0 479.2L355.3 496.4L355.6 474.6L356.0 505.1L356.3 497.5L356.6 464.4L357.0 498.6L357.3 491.2L357.6 479.8L357.9 485.2L358.3 483.9L358.6 482.2L358.9 475.1L359.3 480.7L359.6 499.0L359.9 481.4L360.3 495.1L360.6 446.1L360.9 480.9L361.2 481.6L361.6 478.5L361.9 481.2L362.2 494.2L362.6 470.2L362.9 474.1L363.2 497.2L363.6 485.2L363.9 477.7L364.2 486.5L364.5 487.1L364.9 491.0L365.2 460.8L365.5 455.5L365.9 497.4L366.2 497.4L366.5 502.2L366.9 495.5L367.2 494.7L367.5 479.4L367.8 499.7L368.2 503.9L368.5 506.8L368.8 511.2L369.2 521.8L369.5 518.7L369.8 525.3L370.2 531.3L370.5 529.1L370.8 531.8L371.1 539.8L371.5 537.4L371.8 539.8L372.1 546.6L372.5 545.2L372.8 551.9L373.1 553.5L373.5 549.8L373.8 551.2L374.1 555.7L374.4 553.4L374.8 554.8L375.1 555.7L375.4 550.6L375.8 556.2L376.1 559.6L376.4 559.7L376.8 554.4L377.1 565.3L377.4 560.2L377.7 551.6L378.1 561.4L378.4 549.5L378.7 562.2L379.1 559.3L379.4 560.3L379.7 555.3L380.1 563.9L380.4 554.9L380.7 564.3L381.0 561.1L381.4 566.9L381.7 563.7L382.0 563.3L382.4 566.0L382.7 553.1L383.0 563.6L383.4 562.9L383.7 563.8L384.0 563.5L384.3 562.7L384.7 552.8L385.0 558.9L385.3 564.7L385.7 562.9L386.0 563.3L386.3 564.8L386.7 567.6L387.0 561.5L387.0 569.5Z" fill="#a2052b" stroke="#000" stroke-width="0.85" stroke-linejoin="round"/>
<rect x="255.1" y="441.5" width="132.20" height="127.95" fill="none" stroke="#000" stroke-width="1.75"/>
<path d="M264.02 569.45v2.4M269.89 569.45v2.4M274.05 569.45v2.4M277.28 569.45v2.4M279.91 569.45v2.4M282.14 569.45v2.4M284.07 569.45v2.4M285.78 569.45v2.4M287.30 569.45v4.4M297.38 569.45v2.4M303.28 569.45v2.4M307.47 569.45v2.4M310.72 569.45v2.4M313.37 569.45v2.4M315.61 569.45v2.4M317.55 569.45v2.4M319.27 569.45v2.4M320.80 569.45v4.4M330.73 569.45v2.4M336.55 569.45v2.4M340.67 569.45v2.4M343.87 569.45v2.4M346.48 569.45v2.4M348.69 569.45v2.4M350.60 569.45v2.4M352.29 569.45v2.4M353.80 569.45v4.4M363.88 569.45v2.4M369.78 569.45v2.4M373.97 569.45v2.4M377.22 569.45v2.4M379.87 569.45v2.4M382.11 569.45v2.4M384.05 569.45v2.4M385.77 569.45v2.4M387.30 569.45v4.4M255.1 569.45h-4.6M255.1 559.28h-2.4M255.1 549.10h-4.6M255.1 538.93h-2.4M255.1 528.75h-4.6M255.1 518.58h-2.4M255.1 508.40h-4.6M255.1 498.23h-2.4M255.1 488.05h-4.6M255.1 477.88h-2.4M255.1 467.70h-4.6M255.1 457.53h-2.4M255.1 447.35h-4.6" stroke="#000" stroke-width="1.3" fill="none"/>
<text x="247.00" y="572.95" font-size="12.0" text-anchor="end" >0</text>
<text x="247.00" y="552.55" font-size="12.0" text-anchor="end" >2</text>
<text x="247.00" y="532.15" font-size="12.0" text-anchor="end" >4</text>
<text x="247.00" y="511.75" font-size="12.0" text-anchor="end" >6</text>
<text x="247.00" y="491.35" font-size="12.0" text-anchor="end" >8</text>
<text x="247.00" y="470.95" font-size="12.0" text-anchor="end" >10</text>
<text x="247.00" y="450.55" font-size="12.0" text-anchor="end" >12</text>
<text x="278.90" y="589.05" font-size="12.2" textLength="14.0" lengthAdjust="spacingAndGlyphs">10</text><text x="293.20" y="584.15" font-size="8" textLength="3.8" lengthAdjust="spacingAndGlyphs" stroke="none">0</text>
<text x="312.40" y="589.05" font-size="12.2" textLength="14.0" lengthAdjust="spacingAndGlyphs">10</text><text x="326.70" y="584.15" font-size="8" textLength="3.8" lengthAdjust="spacingAndGlyphs" stroke="none">1</text>
<text x="345.40" y="589.05" font-size="12.2" textLength="14.0" lengthAdjust="spacingAndGlyphs">10</text><text x="359.70" y="584.15" font-size="8" textLength="3.8" lengthAdjust="spacingAndGlyphs" stroke="none">2</text>
<text x="378.90" y="589.05" font-size="12.2" textLength="14.0" lengthAdjust="spacingAndGlyphs">10</text><text x="393.20" y="584.15" font-size="8" textLength="3.8" lengthAdjust="spacingAndGlyphs" stroke="none">3</text>
<rect x="327.5" y="508.2" width="55" height="13" fill="#fff" fill-opacity="0.72"/>
<path d="M323.8 527.7H387.3M323.8 522.5v10.4" stroke="#000" stroke-width="1.4" fill="none"/>
<text x="329.00" y="518.00" font-size="10.9" text-anchor="start" textLength="51.8" lengthAdjust="spacing">B: 95.72%</text>
<text x="391.90" y="501.6" font-size="10.8" textLength="22.45" lengthAdjust="spacingAndGlyphs" >PT4:</text>
<text x="421.15" y="501.6" font-size="10.8" textLength="13.70" lengthAdjust="spacingAndGlyphs" >on</text>
<text x="438.15" y="501.6" font-size="10.8" textLength="67.95" lengthAdjust="spacingAndGlyphs" >empagliflozin</text>
<text x="391.90" y="514.8" font-size="10.8" textLength="50.45" lengthAdjust="spacingAndGlyphs" >treatment</text>
<text x="444.90" y="514.8" font-size="10.8" textLength="22.45" lengthAdjust="spacingAndGlyphs" >(day</text>
<text x="471.15" y="514.8" font-size="10.8" textLength="16.20" lengthAdjust="spacingAndGlyphs" >48)</text>
<text x="62.00" y="603.90" font-size="11.7" text-anchor="start" textLength="94.3" lengthAdjust="spacingAndGlyphs">DHR 123 fluorescence</text>
<path d="M162 600.5H380" stroke="#000" stroke-width="1.5" fill="none"/>
<path d="M387.6 600.5L376.4 595.9L379.3 600.5L376.4 605.1Z" fill="#000"/>
</svg></body></html>
